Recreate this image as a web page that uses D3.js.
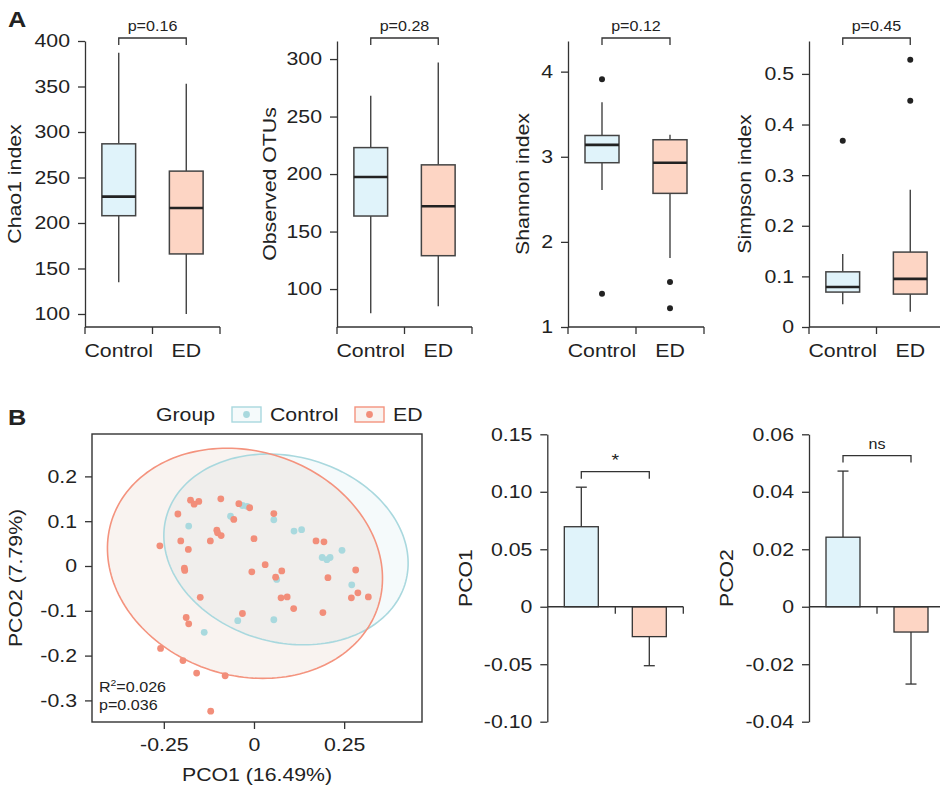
<!DOCTYPE html>
<html>
<head>
<meta charset="utf-8">
<script src="https://cdn.jsdelivr.net/npm/d3@7"></script>
<style>
  body { margin: 0; background: #fff; }
  text { font-family: "Liberation Sans", Arial, Helvetica, sans-serif; fill: #222; }
  .axis path, .axis line { stroke: #333; stroke-width: 1.3; }
  .axis text { font-size: 18.5px; fill: #222; }
</style>
</head>
<body>
<div id="fig"></div>
<script>
////////////////////////////////////////////////////////////////////////
// Data

let groups = ["Control", "ED"];
let groupFill = ["#e0f3fa", "#fdd5c4"];
let groupPoint = ["#a9d9de", "#f28e7a"];

// Panel A: box stats per group as [low whisker, q1, median, q3, high whisker]
let chao1Stats = [[135, 208, 229, 287, 387], [100, 166, 216.5, 257, 353]];
let chao1Outliers = [[], []];
let otuStats = [[79, 163.5, 197.5, 223, 268], [85, 129, 172, 208, 297]];
let otuOutliers = [[], []];
let shannonStats = [[2.61, 2.93, 3.14, 3.25, 3.64], [1.81, 2.57, 2.93, 3.20, 3.26]];
let shannonOutliers = [[3.91, 1.39], [1.53, 1.22]];
let simpsonStats = [[0.045, 0.069, 0.079, 0.109, 0.144], [0.03, 0.065, 0.095, 0.148, 0.271]];
let simpsonOutliers = [[0.368], [0.528, 0.447]];

let alphaTitles = ["Chao1 index", "Observed OTUs", "Shannon index", "Simpson index"];
let alphaPvalues = ["p=0.16", "p=0.28", "p=0.12", "p=0.45"];
let chao1Ticks = [100, 150, 200, 250, 300, 350, 400];
let otuTicks = [100, 150, 200, 250, 300];
let shannonTicks = [1, 2, 3, 4];
let simpsonTicks = [0, 0.1, 0.2, 0.3, 0.4, 0.5];

// Panel B: PCoA coordinates [PCO1, PCO2]
let controlPoints = [
  [-0.181, 0.089], [-0.065, 0.111], [-0.032, 0.135], [-0.019, 0.133], [0.055, 0.103],
  [0.111, 0.078], [0.132, 0.081], [0.244, 0.035], [0.189, 0.019], [0.202, 0.014],
  [0.211, 0.019], [0.063, -0.030], [0.271, -0.042], [-0.045, -0.122], [0.055, -0.120],
  [-0.138, -0.148]
];
let edPoints = [
  [-0.176, 0.147], [-0.153, 0.144], [-0.166, 0.138], [-0.092, 0.150], [-0.042, 0.139],
  [-0.012, 0.130], [0.055, 0.117], [-0.211, 0.116], [-0.056, 0.104], [-0.103, 0.080],
  [-0.101, 0.074], [-0.091, 0.068], [-0.121, 0.056], [-0.203, 0.056], [0.000, 0.061],
  [0.172, 0.056], [0.194, 0.054], [-0.182, 0.037], [-0.261, 0.045], [-0.193, -0.005],
  [-0.192, -0.010], [0.031, 0.003], [0.077, -0.011], [-0.006, -0.013], [0.060, -0.025],
  [0.205, -0.026], [0.282, -0.009], [-0.149, -0.070], [0.075, -0.071], [0.092, -0.069],
  [0.270, -0.071], [0.288, -0.060], [0.317, -0.069], [0.110, -0.095], [0.191, -0.104],
  [-0.032, -0.106], [-0.188, -0.115], [-0.181, -0.129], [-0.259, -0.184], [-0.197, -0.211],
  [-0.159, -0.239], [-0.080, -0.245], [-0.120, -0.324]
];
// confidence ellipses: centre, then the two half-axis vectors (data units)
let controlEllipse = [0.0887, 0.037, 0.332, -0.0717, -0.0668, -0.2005];
let edEllipse = [-0.025, 0.006, 0.369, -0.0966, -0.096, -0.238];

let pcoXTicks = [-0.25, 0, 0.25];
let pcoYTicks = [-0.3, -0.2, -0.1, 0, 0.1, 0.2];
let pcoStatText = ["=0.026", "p=0.036"];

// PCO means and standard errors per group
let pco1Mean = [0.0696, -0.026];
let pco1Err = [0.0344, 0.0253];
let pco2Mean = [0.0242, -0.0088];
let pco2Err = [0.0230, 0.0181];
let pco1Ticks = [-0.10, -0.05, 0, 0.05, 0.10, 0.15];
let pco2Ticks = [-0.04, -0.02, 0, 0.02, 0.04, 0.06];

////////////////////////////////////////////////////////////////////////

let width = 940;
let height = 788;
let svg = d3.select("#fig").append("svg")
  .attr("width", width).attr("height", height);

let ink = "#333";

// tick label format: hyphen minus, "0" for zero
function fmt(digits) {
  return d => d === 0 ? "0" : d.toFixed(digits);
}

function bracket(g, x1, x2, yTop, label, labelY, size) {
  g.append("path")
    .attr("d", `M${x1},${yTop + 7}V${yTop}H${x2}V${yTop + 7}`)
    .attr("fill", "none").attr("stroke", ink).attr("stroke-width", 1.3);
  g.append("text")
    .attr("x", (x1 + x2) / 2).attr("y", labelY)
    .attr("text-anchor", "middle")
    .style("font-size", size + "px")
    .text(label);
}

////////////////////////////////////////////////////////////////////////
// Panel A: alpha diversity box plots

let boxPanels = [
  { stats: chao1Stats, out: chao1Outliers, ticks: chao1Ticks, digits: 0, domain: [85.7, 400], x0: 85, x1: 220, titleOff: 70 },
  { stats: otuStats, out: otuOutliers, ticks: otuTicks, digits: 0, domain: [67, 315.7], x0: 337, x1: 472, titleOff: 67 },
  { stats: shannonStats, out: shannonOutliers, ticks: shannonTicks, digits: 0, domain: [1, 4.36], x0: 568, x1: 704, titleOff: 45 },
  { stats: simpsonStats, out: simpsonOutliers, ticks: simpsonTicks, digits: 1, domain: [0, 0.565], x0: 809, x1: 944, titleOff: 64 }
];

let boxTop = 41, boxBottom = 327;

boxPanels.forEach(function(p, i) {
  let g = svg.append("g");
  let y = d3.scaleLinear().domain(p.domain).range([boxBottom, boxTop]);
  let x = d3.scaleBand().domain(groups).range([p.x0, p.x1]);
  let bw = x.bandwidth();

  // y axis
  g.append("g").attr("class", "axis")
    .attr("transform", `translate(${p.x0},0)`)
    .call(d3.axisLeft(y).tickValues(p.ticks).tickFormat(fmt(p.digits))
      .tickSize(7).tickPadding(8).tickSizeOuter(0));

  // x axis with ticks on the band edges
  let xa = g.append("g").attr("class", "axis");
  xa.append("line")
    .attr("x1", p.x0).attr("x2", p.x1).attr("y1", boxBottom).attr("y2", boxBottom);
  xa.selectAll(".tk")
    .data([p.x0, p.x0 + bw, p.x1])
    .enter().append("line")
    .attr("x1", d => d).attr("x2", d => d)
    .attr("y1", boxBottom).attr("y2", boxBottom + 7);
  xa.selectAll(".lab")
    .data(groups)
    .enter().append("text")
    .attr("x", d => x(d) + bw / 2).attr("y", 357)
    .attr("text-anchor", "middle")
    .text(d => d);

  // y title
  g.append("text")
    .attr("transform", `translate(${p.x0 - p.titleOff},${(boxTop + boxBottom) / 2}) rotate(-90)`)
    .attr("text-anchor", "middle")
    .attr("dy", "0.35em")
    .style("font-size", "18.5px")
    .text(alphaTitles[i]);

  // boxes
  groups.forEach(function(grp, k) {
    let s = p.stats[k];
    let cx = x(grp) + bw / 2;
    let half = bw / 4;
    g.append("line")
      .attr("x1", cx).attr("x2", cx).attr("y1", y(s[0])).attr("y2", y(s[1]))
      .attr("stroke", ink).attr("stroke-width", 1.3);
    g.append("line")
      .attr("x1", cx).attr("x2", cx).attr("y1", y(s[3])).attr("y2", y(s[4]))
      .attr("stroke", ink).attr("stroke-width", 1.3);
    g.append("rect")
      .attr("x", cx - half).attr("width", 2 * half)
      .attr("y", y(s[3])).attr("height", y(s[1]) - y(s[3]))
      .attr("fill", groupFill[k]).attr("stroke", "#444").attr("stroke-width", 1.5);
    g.append("line")
      .attr("x1", cx - half).attr("x2", cx + half)
      .attr("y1", y(s[2])).attr("y2", y(s[2]))
      .attr("stroke", "#222").attr("stroke-width", 2.6);
    g.selectAll(".out" + k)
      .data(p.out[k])
      .enter().append("circle")
      .attr("cx", cx).attr("cy", d => y(d)).attr("r", 3)
      .attr("fill", "#222");
  });

  bracket(g, x(groups[0]) + bw / 2, x(groups[1]) + bw / 2, 38, alphaPvalues[i], 31, 14);
});

svg.append("text").attr("x", 8).attr("y", 27)
  .style("font-size", "22px").style("font-weight", "bold").text("A");
svg.append("text").attr("x", 8).attr("y", 425)
  .style("font-size", "22px").style("font-weight", "bold").text("B");

////////////////////////////////////////////////////////////////////////
// Panel B: PCoA scatter

let sc = { left: 92, right: 422, top: 434, bottom: 722 };
let xS = d3.scaleLinear().domain([-0.4491, 0.4658]).range([sc.left, sc.right]);
let yS = d3.scaleLinear().domain([-0.3482, 0.2946]).range([sc.bottom, sc.top]);

let sg = svg.append("g");

sg.append("g").attr("class", "axis")
  .attr("transform", `translate(0,${sc.bottom})`)
  .call(d3.axisBottom(xS).tickValues(pcoXTicks).tickFormat(fmt(2)).tickSize(7).tickPadding(9).tickSizeOuter(0))
  .call(a => a.select(".domain").remove());
sg.append("g").attr("class", "axis")
  .attr("transform", `translate(${sc.left},0)`)
  .call(d3.axisLeft(yS).tickValues(pcoYTicks).tickFormat(fmt(1)).tickSize(7).tickPadding(8).tickSizeOuter(0))
  .call(a => a.select(".domain").remove());

function ellipsePath(e) {
  let ts = d3.range(0, 2 * Math.PI, Math.PI / 90);
  return d3.line().curve(d3.curveLinearClosed)(ts.map(t => [
    xS(e[0] + Math.cos(t) * e[2] + Math.sin(t) * e[4]),
    yS(e[1] + Math.cos(t) * e[3] + Math.sin(t) * e[5])
  ]));
}

// control first, ED on top
let ellipses = [controlEllipse, edEllipse];
let ellFill = ["#bcdee4", "#d7af9b"];
let ellStroke = ["#a9d8de", "#f4937e"];
ellipses.forEach(function(e, i) {
  sg.append("path").attr("d", ellipsePath(e))
    .attr("fill", ellFill[i]).attr("fill-opacity", 0.15).attr("stroke", "none");
});
ellipses.forEach(function(e, i) {
  sg.append("path").attr("d", ellipsePath(e))
    .attr("fill", "none").attr("stroke", ellStroke[i]).attr("stroke-width", 1.6);
});

[controlPoints, edPoints].forEach(function(pts, k) {
  sg.selectAll(".pt" + k)
    .data(pts)
    .enter().append("circle")
    .attr("cx", d => xS(d[0])).attr("cy", d => yS(d[1])).attr("r", 3.4)
    .attr("fill", groupPoint[k]);
});

sg.append("rect")
  .attr("x", sc.left).attr("y", sc.top)
  .attr("width", sc.right - sc.left).attr("height", sc.bottom - sc.top)
  .attr("fill", "none").attr("stroke", ink).attr("stroke-width", 1.4);

// R2 and p annotation
let st = sg.append("text").attr("x", 99).attr("y", 692).style("font-size", "14px");
st.append("tspan").text("R");
st.append("tspan").attr("dy", -6).style("font-size", "9px").text("2");
st.append("tspan").attr("dy", 6).text(pcoStatText[0]);
sg.append("text").attr("x", 99).attr("y", 710).style("font-size", "14px").text(pcoStatText[1]);

sg.append("text")
  .attr("x", (sc.left + sc.right) / 2).attr("y", 781)
  .attr("text-anchor", "middle").style("font-size", "18.5px")
  .text("PCO1 (16.49%)");
sg.append("text")
  .attr("transform", `translate(16,${(sc.top + sc.bottom) / 2}) rotate(-90)`)
  .attr("text-anchor", "middle").attr("dy", "0.35em")
  .style("font-size", "18.5px")
  .text("PCO2 (7.79%)");

// legend
let lg = svg.append("g");
lg.append("text").attr("x", 156).attr("y", 421).style("font-size", "18.5px").text("Group");
let legX = [232, 355];
groups.forEach(function(grp, k) {
  lg.append("rect")
    .attr("x", legX[k]).attr("y", 407).attr("width", 29).attr("height", 15)
    .attr("fill", ellFill[k]).attr("fill-opacity", 0.15)
    .attr("stroke", ellStroke[k]).attr("stroke-width", 1.4);
  lg.append("circle")
    .attr("cx", legX[k] + 14.5).attr("cy", 414.5).attr("r", 3.4)
    .attr("fill", groupPoint[k]);
  lg.append("text")
    .attr("x", legX[k] + 38).attr("y", 421)
    .style("font-size", "18.5px").text(grp);
});

////////////////////////////////////////////////////////////////////////
// Panel B: PCO1 / PCO2 mean bars

let barPanels = [
  { mean: pco1Mean, err: pco1Err, ticks: pco1Ticks, domain: [-0.10, 0.15], x0: 547.3, title: "PCO1", label: "*", labelSize: 17, labelUp: 6 },
  { mean: pco2Mean, err: pco2Err, ticks: pco2Ticks, domain: [-0.04, 0.06], x0: 809, title: "PCO2", label: "ns", labelSize: 14, labelUp: 7 }
];

barPanels.forEach(function(p) {
  let g = svg.append("g");
  let y = d3.scaleLinear().domain(p.domain).range([721.7, 434.3]);
  let x = d3.scaleBand().domain(groups).range([p.x0, p.x0 + 136]);
  let bw = x.bandwidth();
  let y0 = y(0);

  g.append("g").attr("class", "axis")
    .attr("transform", `translate(${p.x0},0)`)
    .call(d3.axisLeft(y).tickValues(p.ticks).tickFormat(fmt(2)).tickSize(7).tickPadding(8).tickSizeOuter(0));

  // bars, error bars
  groups.forEach(function(grp, k) {
    let cx = x(grp) + bw / 2;
    let m = p.mean[k];
    let e = m >= 0 ? m + p.err[k] : m - p.err[k];
    g.append("line")
      .attr("x1", cx).attr("x2", cx).attr("y1", y(m)).attr("y2", y(e))
      .attr("stroke", ink).attr("stroke-width", 1.3);
    g.append("line")
      .attr("x1", cx - 5.5).attr("x2", cx + 5.5).attr("y1", y(e)).attr("y2", y(e))
      .attr("stroke", ink).attr("stroke-width", 1.3);
    g.append("rect")
      .attr("x", cx - bw / 4).attr("width", bw / 2)
      .attr("y", Math.min(y(m), y0)).attr("height", Math.abs(y(m) - y0))
      .attr("fill", groupFill[k]).attr("stroke", ink).attr("stroke-width", 1.3);
  });

  // zero line with ticks on the band edges
  let xa = g.append("g").attr("class", "axis");
  xa.append("line")
    .attr("x1", p.x0).attr("x2", p.x0 + 136).attr("y1", y0).attr("y2", y0);
  xa.selectAll(".tk")
    .data([p.x0 + bw, p.x0 + 136])
    .enter().append("line")
    .attr("x1", d => d).attr("x2", d => d)
    .attr("y1", y0).attr("y2", y0 + 7);

  g.append("text")
    .attr("transform", `translate(${p.x0 - 82},${y(d3.mean(p.domain))}) rotate(-90)`)
    .attr("text-anchor", "middle").attr("dy", "0.35em")
    .style("font-size", "18.5px")
    .text(p.title);

  let tops = groups.map((grp, k) => y(p.mean[k] + p.err[k]));
  let yb = d3.min(tops) - 15.5;
  bracket(g, x(groups[0]) + bw / 2, x(groups[1]) + bw / 2, yb, p.label, yb - p.labelUp, p.labelSize);
});

// the figure's lettering runs wider than Arial: stretch every label along its
// own direction, keeping its anchor point fixed
svg.selectAll("text").each(function() {
  let t = d3.select(this);
  let x = +t.attr("x") || 0;
  let tr = t.attr("transform") || "";
  t.attr("transform", `${tr} translate(${x},0) scale(1.15,1) translate(${-x},0)`);
});
</script>
</body>
</html>
